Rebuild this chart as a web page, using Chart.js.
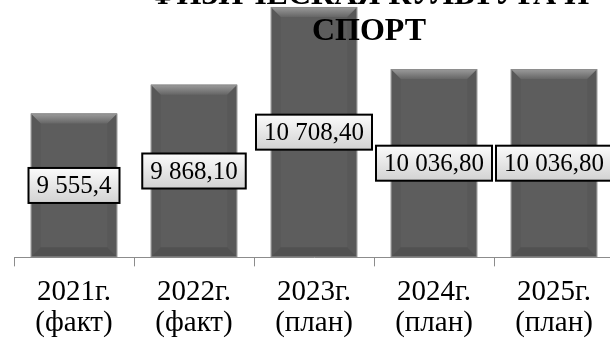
<!DOCTYPE html>
<html lang="ru">
<head>
<meta charset="utf-8">
<title>Физическая культура и спорт</title>
<script src="https://cdn.jsdelivr.net/npm/chart.js@4.4.1/dist/chart.umd.min.js"></script>
<style>
  html, body { margin: 0; padding: 0; width: 610px; height: 342px; overflow: hidden; background: #fff; }
  #chart { position: absolute; left: 0; top: -30px; }
</style>
</head>
<body>
<canvas id="chart" width="630" height="383"></canvas>
<script>
const years = ["2021г.", "2022г.", "2023г.", "2024г.", "2025г."];
const kinds = ["(факт)", "(факт)", "(план)", "(план)", "(план)"];
const amounts = [9555.4, 9868.1, 10708.4, 10036.8, 10036.8];
const decimals = [1, 2, 2, 2, 2];
const titleLines = ["ФИЗИЧЕСКАЯ КУЛЬТУРА И", "СПОРТ"];
const axisFloor = 8000;

const SERIF = '"Liberation Serif", "Times New Roman", serif';

function poly(ctx, pts) {
  ctx.beginPath();
  ctx.moveTo(pts[0][0], pts[0][1]);
  for (let i = 1; i < pts.length; i++) ctx.lineTo(pts[i][0], pts[i][1]);
  ctx.closePath();
  ctx.fill();
}

function fmt(v, d) {
  return v.toLocaleString("ru-RU", { minimumFractionDigits: d, maximumFractionDigits: d });
}

// bevelled bars + boxed value labels
const barDecor = {
  id: "barDecor",
  afterDatasetsDraw(chart) {
    const ctx = chart.ctx;
    const bars = chart.getDatasetMeta(0).data;
    bars.forEach((bar) => {
      const { x, y, base, width } = bar.getProps(["x", "y", "base", "width"], true);
      const l = x - width / 2, r = x + width / 2, t = y, b = base;
      const bv = 10;
      ctx.save();
      const g = ctx.createLinearGradient(0, t, 0, t + bv);
      g.addColorStop(0, "#9c9c9c");
      g.addColorStop(1, "#666666");
      ctx.fillStyle = g;
      poly(ctx, [[l, t], [r, t], [r - bv, t + bv], [l + bv, t + bv]]);
      ctx.fillStyle = "rgba(0,0,0,0.05)";
      poly(ctx, [[l, t], [l + bv, t + bv], [l + bv, b - bv], [l, b]]);
      poly(ctx, [[r, t], [r - bv, t + bv], [r - bv, b - bv], [r, b]]);
      ctx.fillStyle = "rgba(0,0,0,0.12)";
      poly(ctx, [[l, b], [l + bv, b - bv], [r - bv, b - bv], [r, b]]);
      ctx.strokeStyle = "#8e8e8e";
      ctx.lineWidth = 1;
      ctx.strokeRect(l + 0.5, t + 0.5, width - 1, b - t - 1);
      ctx.restore();
    });

    bars.forEach((bar, i) => {
      const { x, y, base } = bar.getProps(["x", "y", "base"], true);
      const text = fmt(amounts[i], decimals[i]);
      ctx.save();
      ctx.font = `25px ${SERIF}`;
      const w = ctx.measureText(text).width + 16;
      const h = 35;
      const cy = (y + base) / 2;
      const bx = x - w / 2, by = cy - h / 2;
      const g = ctx.createLinearGradient(0, by, 0, by + h);
      g.addColorStop(0, "#fbfbfb");
      g.addColorStop(1, "#d2d2d2");
      ctx.fillStyle = g;
      ctx.fillRect(bx, by, w, h);
      ctx.strokeStyle = "#000";
      ctx.lineWidth = 2;
      ctx.strokeRect(bx, by, w, h);
      ctx.fillStyle = "#000";
      ctx.textAlign = "center";
      ctx.textBaseline = "middle";
      ctx.fillText(text, x, cy + 1);
      ctx.restore();
    });
  },
  afterDraw(chart) {
    const ctx = chart.ctx;
    ctx.save();
    ctx.font = `bold 32px ${SERIF}`;
    ctx.fillStyle = "#000";
    ctx.textAlign = "center";
    ctx.textBaseline = "alphabetic";
    ctx.fillText(titleLines[0], 369, 34);
    ctx.fillText(titleLines[1], 369, 70);
    ctx.restore();
  },
};

new Chart(document.getElementById("chart"), {
  type: "bar",
  data: {
    labels: years.map((y, i) => [y, kinds[i]]),
    datasets: [{
      data: amounts,
      base: axisFloor,
      backgroundColor: "#5d5d5d",
      borderWidth: 0,
      categoryPercentage: 1,
      barPercentage: 0.72,
    }],
  },
  plugins: [barDecor],
  options: {
    responsive: false,
    animation: false,
    layout: { padding: { left: 14, right: 16, top: 10, bottom: 4 } },
    plugins: { legend: { display: false }, tooltip: { enabled: false }, title: { display: false } },
    scales: {
      y: { display: false, min: axisFloor, max: 11000 },
      x: {
        offset: true,
        grid: { display: true, drawOnChartArea: false, drawTicks: true, tickLength: 9, color: "#8c8c8c", offset: true },
        border: { display: true, color: "#8c8c8c" },
        ticks: {
          color: "#000",
          font: { family: SERIF, size: 29, lineHeight: 1.08 },
          padding: 10,
          maxRotation: 0,
          autoSkip: false,
        },
      },
    },
  },
});
</script>
</body>
</html>
